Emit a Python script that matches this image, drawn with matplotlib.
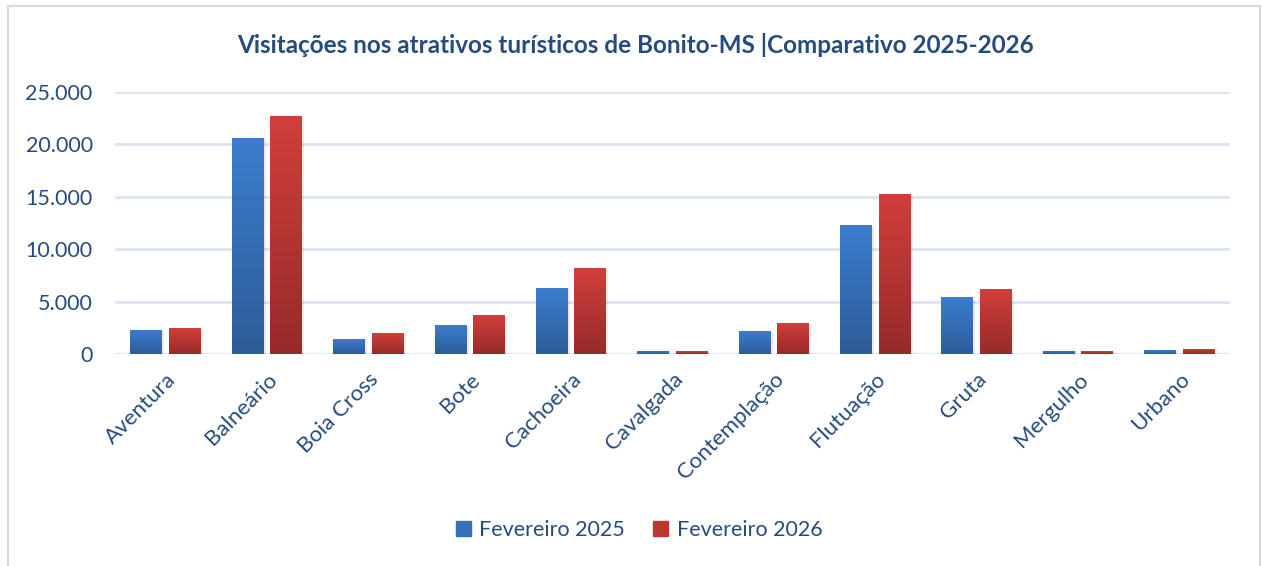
import numpy as np
import matplotlib.pyplot as plt
from matplotlib.colors import LinearSegmentedColormap
from matplotlib.patches import Rectangle
from matplotlib.ticker import FuncFormatter

plt.rcParams['font.family'] = ['Lato', 'DejaVu Sans']

categorias = ['Aventura', 'Balneário', 'Boia Cross', 'Bote', 'Cachoeira', 'Cavalgada',
              'Contemplação', 'Flutuação', 'Gruta', 'Mergulho', 'Urbano']
fev_2025 = [2290, 20600, 1430, 2760, 6290, 290, 2190, 12300, 5430, 290, 380]
fev_2026 = [2480, 22700, 2000, 3720, 8200, 280, 2950, 15250, 6200, 280, 480]
series = ['Fevereiro 2025', 'Fevereiro 2026']

txt = '#264B7E'
cmap_azul = LinearSegmentedColormap.from_list('azul', ['#2D5C98', '#3C7DCE'])
cmap_verm = LinearSegmentedColormap.from_list('verm', ['#962A29', '#D13F3B'])

fig = plt.figure(figsize=(12.63, 5.66), dpi=100)
ax = fig.add_axes([0.091, 0.3746, 0.883, 0.463])

x = np.arange(len(categorias))
w = 0.315
off = 0.19
b1 = ax.bar(x - off, fev_2025, w, color='#3570BA', label=series[0], zorder=3)
b2 = ax.bar(x + off, fev_2026, w, color='#BC3633', label=series[1], zorder=3)

# degradê vertical nas barras
grad = np.linspace(0, 1, 256).reshape(-1, 1)
for bars, cm in ((b1, cmap_azul), (b2, cmap_verm)):
    for b in bars:
        x0, h, bw = b.get_x(), b.get_height(), b.get_width()
        # sombra leve
        ax.add_patch(Rectangle((x0 + 0.02, -150), bw, h + 100, color='#000000',
                               alpha=0.08, zorder=2, linewidth=0))
        im = ax.imshow(grad, cmap=cm, aspect='auto', origin='lower',
                       extent=(x0, x0 + bw, 0, h), zorder=4)
        im.set_clip_path(b)

ax.set_xlim(-0.5, len(categorias) - 0.5)
ax.set_ylim(0, 25000)
ax.set_yticks(range(0, 25001, 5000))
ax.yaxis.set_major_formatter(FuncFormatter(lambda v, p: f'{int(v):,}'.replace(',', '.')))
ax.grid(axis='y', color='#DAE4F2', linewidth=2, zorder=0)
ax.set_axisbelow(True)
for s in ax.spines.values():
    s.set_visible(False)
ax.tick_params(length=0, colors=txt, labelsize=16)
ax.tick_params(axis='y', pad=16, labelsize=15.5)
ax.set_xticks(x)
ax.set_xticklabels(categorias, rotation=45, ha='right', va='top', rotation_mode='anchor')
ax.tick_params(axis='x', pad=11)

fig.text(0.503, 0.92, 'Visitações nos atrativos turísticos de Bonito-MS |Comparativo 2025-2026',
         ha='center', va='center', fontsize=17.5, fontweight='bold', color=txt)

leg = fig.legend(handles=[b1, b2], labels=series, loc='center', bbox_to_anchor=(0.506, 0.064),
                 ncol=2, frameon=False, fontsize=15.5, handlelength=0.7, handleheight=0.7,
                 columnspacing=1.3, handletextpad=0.4)
for t in leg.get_texts():
    t.set_color(txt)
leg.legend_handles[0].set_color('#3570BA')
leg.legend_handles[1].set_color('#BC3633')

fig.patches.append(Rectangle((0.0065, -0.05), 0.991, 1.04, transform=fig.transFigure,
                             fill=False, edgecolor='#D9D9D9', linewidth=1.5))

fig.savefig('out.png', dpi=100)
